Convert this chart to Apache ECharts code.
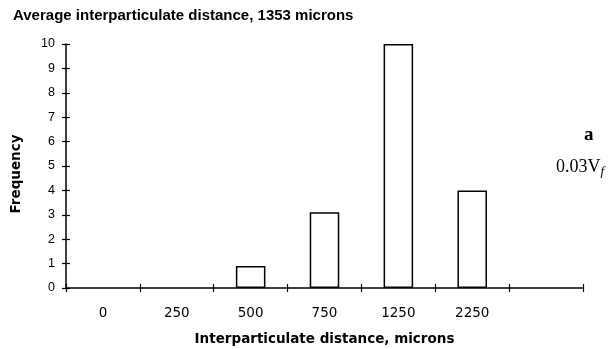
<!DOCTYPE html>
<html><head><meta charset="utf-8">
<script src="https://cdn.jsdelivr.net/npm/echarts@6/dist/echarts.min.js"></script>
<style>html,body{margin:0;padding:0;background:#fff}#c{width:608px;height:349px}</style>
</head><body><div id="c"></div>
<script>
var categories = ['0', '250', '500', '750', '1250', '2250', ''];
var frequency = [0, 0, 0.9, 3.1, 10, 4, 0];
var yTicks = [0, 1, 2, 3, 4, 5, 6, 7, 8, 9, 10];

var chart = echarts.init(document.getElementById('c'));
var axisLine = {show: true, lineStyle: {color: '#000', width: 1.5}};
var barData = frequency.map(function (v) {
  return v === 0 ? {value: v, itemStyle: {borderWidth: 0}} : v;
});
chart.setOption({
  animation: false,
  backgroundColor: '#fff',
  title: {
    text: 'Average interparticulate distance, 1353 microns',
    left: 8, top: 3,
    textStyle: {fontFamily: 'Liberation Sans, Arial', fontWeight: 'bold', fontSize: 15, color: '#000'}
  },
  grid: {left: 66, right: 25, top: 44, bottom: 61, containLabel: false, outerBoundsMode: 'none'},
  xAxis: [{
    type: 'category', data: categories, boundaryGap: true, z: 5,
    axisLine: axisLine,
    axisTick: {show: true, length: 4, lineStyle: {color: '#000', width: 1.2}},
    axisLabel: {color: '#000', fontFamily: 'DejaVu Sans', fontSize: 13.5, margin: 18},
    name: 'Interparticulate distance, microns', nameLocation: 'middle', nameGap: 44,
    nameTextStyle: {color: '#000', fontFamily: 'DejaVu Sans', fontWeight: 'bold', fontSize: 13.5}
  }, {
    type: 'category', data: categories, position: 'bottom', boundaryGap: true, z: 5,
    axisLine: {show: false},
    axisTick: {show: true, inside: true, length: 4, lineStyle: {color: '#000', width: 1.2}},
    axisLabel: {show: false}
  }],
  yAxis: [{
    type: 'value', min: 0, max: 10, interval: 1, z: 5,
    axisLine: axisLine,
    axisTick: {show: true, length: 4, lineStyle: {color: '#000', width: 1.2}},
    splitLine: {show: false},
    axisLabel: {color: '#000', fontFamily: 'Liberation Sans, Arial', fontSize: 12.5, margin: 11,
      formatter: function (v) { return yTicks.indexOf(v) >= 0 ? String(v) : ''; }},
    name: 'Frequency', nameLocation: 'middle', nameGap: 43, nameRotate: 90,
    nameTextStyle: {color: '#000', fontFamily: 'DejaVu Sans', fontWeight: 'bold', fontSize: 13.5, padding: [0, 16, 0, 0]}
  }, {
    type: 'value', min: 0, max: 10, interval: 1, position: 'left', z: 5,
    axisLine: {show: false},
    axisTick: {show: true, inside: true, length: 4, lineStyle: {color: '#000', width: 1.2}},
    splitLine: {show: false}, axisLabel: {show: false}
  }],
  series: [{
    type: 'bar', data: barData, barWidth: '40%',
    itemStyle: {color: '#fff', borderColor: '#000', borderWidth: 1.5}
  }],
  graphic: [{
    type: 'text', left: 584, top: 126,
    style: {text: 'a', font: 'bold 19px "Liberation Serif", "Times New Roman", serif', fill: '#000'}
  }, {
    type: 'text', left: 556, top: 158,
    style: {
      text: '0.03V{s|f}',
      rich: {s: {fontFamily: 'Liberation Serif', fontStyle: 'italic', fontSize: 13, verticalAlign: 'bottom', padding: [9, 0, 0, 0]}},
      font: '18px "Liberation Serif", "Times New Roman", serif', fill: '#000'
    }
  }]
});
</script></body></html>
